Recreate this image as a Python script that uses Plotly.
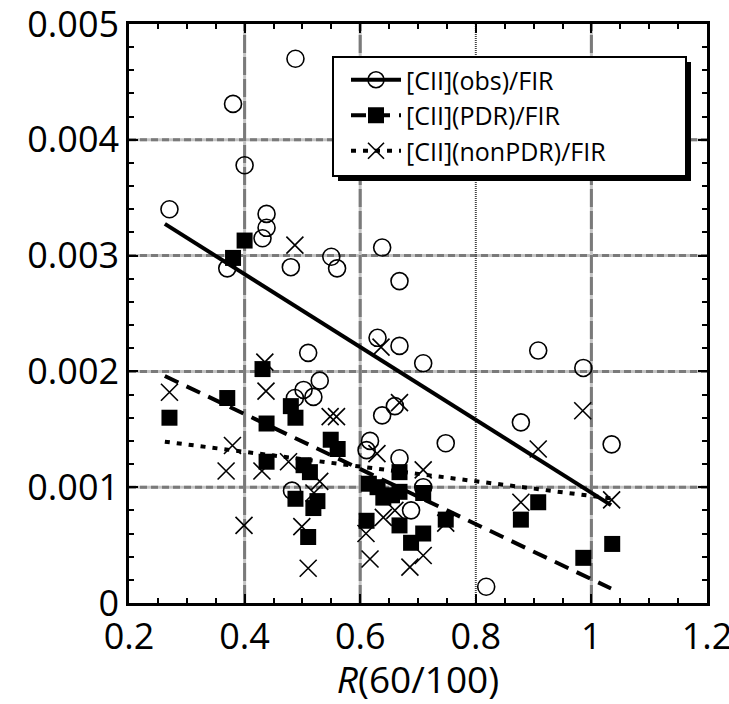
import plotly.graph_objects as go

# ---- data ----
obs_x = [0.488, 0.380, 0.400, 0.270, 0.438, 0.438, 0.431, 0.370, 0.480, 0.550,
         0.560, 0.638, 0.668, 0.510, 0.630, 0.668, 0.709, 0.530, 0.502, 0.519,
         0.487, 0.638, 0.660, 0.617, 0.611, 0.668, 0.709, 0.482, 0.688, 0.908,
         0.986, 0.878, 0.748, 1.035, 0.818]
obs_y = [0.00470, 0.00431, 0.00378, 0.00340, 0.00336, 0.00324, 0.00315, 0.00289, 0.00290, 0.00299,
         0.00289, 0.00307, 0.00278, 0.00216, 0.00229, 0.00222, 0.00207, 0.00192, 0.00184, 0.00178,
         0.00177, 0.00162, 0.00170, 0.00140, 0.00132, 0.00125, 0.00100, 0.00097, 0.00080, 0.00218,
         0.00203, 0.00156, 0.00138, 0.00137, 0.00014]

pdr_x = [0.400, 0.380, 0.270, 0.370, 0.431, 0.438, 0.480, 0.488, 0.438, 0.549,
         0.561, 0.502, 0.513, 0.488, 0.526, 0.519, 0.510, 0.615, 0.630, 0.640,
         0.655, 0.668, 0.668, 0.709, 0.611, 0.668, 0.688, 0.709, 0.748, 0.878,
         0.908, 0.986, 1.036]
pdr_y = [0.00313, 0.00298, 0.00160, 0.00177, 0.00202, 0.00155, 0.00170, 0.00160, 0.00122, 0.00141,
         0.00133, 0.00119, 0.00113, 0.00090, 0.00088, 0.00082, 0.00057, 0.00103, 0.00100, 0.00091,
         0.00093, 0.00113, 0.00096, 0.00095, 0.00071, 0.00067, 0.00052, 0.00060, 0.00072, 0.00072,
         0.00087, 0.00039, 0.00051]

non_x = [0.487, 0.270, 0.379, 0.368, 0.437, 0.435, 0.430, 0.476, 0.399, 0.548,
         0.559, 0.530, 0.499, 0.510, 0.610, 0.617, 0.636, 0.668, 0.629, 0.709,
         0.640, 0.660, 0.686, 0.709, 0.748, 0.878, 0.908, 0.985, 1.035, 0.520]
non_y = [0.00309, 0.00182, 0.00136, 0.00114, 0.00183, 0.00208, 0.00114, 0.00122, 0.00067, 0.00161,
         0.00161, 0.00105, 0.00066, 0.00030, 0.00060, 0.00038, 0.00221, 0.00173, 0.00129, 0.00115,
         0.00074, 0.00080, 0.00031, 0.00041, 0.00069, 0.00087, 0.00133, 0.00166, 0.00089, 0.00095]

fit_x = [0.262, 1.034]
obs_fit_y = [0.003274, 0.000845]
pdr_fit_y = [0.00196, 0.000125]
non_fit_y = [0.001393, 0.000903]

legend_names = ["[CII](obs)/FIR", "[CII](PDR)/FIR", "[CII](nonPDR)/FIR"]

x_ticks = [0.2, 0.4, 0.6, 0.8, 1.0, 1.2]
x_tick_text = ["0.2", "0.4", "0.6", "0.8", "1", "1.2"]
y_ticks = [0, 0.001, 0.002, 0.003, 0.004, 0.005]
y_tick_text = ["0", "0.001", "0.002", "0.003", "0.004", "0.005"]
x_grid_dashed = [0.4, 0.6, 1.0]
x_grid_dotted = [0.8]
y_grid = [0.001, 0.002, 0.003, 0.004]

FONT = "Open Sans"
MS = 17

fig = go.Figure()

# fit lines
fig.add_trace(go.Scatter(x=fit_x, y=obs_fit_y, mode="lines",
                         line=dict(color="black", width=4), showlegend=False))
fig.add_trace(go.Scatter(x=fit_x, y=pdr_fit_y, mode="lines",
                         line=dict(color="black", width=4, dash="15px,9px"), showlegend=False))
fig.add_trace(go.Scatter(x=fit_x, y=non_fit_y, mode="lines",
                         line=dict(color="black", width=4, dash="5px,7px"), showlegend=False))

# scatter points
fig.add_trace(go.Scatter(x=non_x, y=non_y, mode="markers", showlegend=False,
                         marker=dict(symbol="x-thin-open", size=MS, color="black",
                                     line=dict(color="black", width=1.6))))
fig.add_trace(go.Scatter(x=obs_x, y=obs_y, mode="markers", showlegend=False,
                         marker=dict(symbol="circle-open", size=MS, color="black",
                                     line=dict(color="black", width=1.6))))
fig.add_trace(go.Scatter(x=pdr_x, y=pdr_y, mode="markers", showlegend=False,
                         marker=dict(symbol="square", size=MS - 1, color="black",
                                     line=dict(color="black", width=0))))

# legend entries
fig.add_trace(go.Scatter(x=[None], y=[None], mode="lines+markers", name=legend_names[0],
                         line=dict(color="black", width=4),
                         marker=dict(symbol="circle-open", size=MS, color="black",
                                     line=dict(color="black", width=1.6))))
fig.add_trace(go.Scatter(x=[None], y=[None], mode="lines+markers", name=legend_names[1],
                         line=dict(color="black", width=4, dash="15px,9px"),
                         marker=dict(symbol="square", size=MS - 1, color="black")))
fig.add_trace(go.Scatter(x=[None], y=[None], mode="lines+markers", name=legend_names[2],
                         line=dict(color="black", width=4, dash="5px,7px"),
                         marker=dict(symbol="x-thin-open", size=MS, color="black",
                                     line=dict(color="black", width=1.6))))

shapes = []
for yv in y_grid:
    shapes.append(dict(type="line", xref="x", yref="y", x0=0.2, x1=1.2, y0=yv, y1=yv,
                       line=dict(color="#c4c4c4", width=3), layer="below"))
    shapes.append(dict(type="line", xref="x", yref="y", x0=0.2, x1=1.2, y0=yv, y1=yv,
                       line=dict(color="#7a7a7a", width=3, dash="7px,4px"), layer="below"))
for xv in x_grid_dashed:
    shapes.append(dict(type="line", xref="x", yref="y", x0=xv, x1=xv, y0=0, y1=0.005,
                       line=dict(color="#c4c4c4", width=3), layer="below"))
    shapes.append(dict(type="line", xref="x", yref="y", x0=xv, x1=xv, y0=0, y1=0.005,
                       line=dict(color="#7a7a7a", width=3, dash="18px,4px"), layer="below"))
for xv in x_grid_dotted:
    shapes.append(dict(type="line", xref="x", yref="y", x0=xv, x1=xv, y0=0, y1=0.005,
                       line=dict(color="#444444", width=2, dash="1px,1px"), layer="below"))

# legend box with drop shadow (pixel -> paper)
L, R, T, B = 129, 707, 24, 603
def px(xp):
    return (xp - L) / (R - L)
def py(yp):
    return (B - yp) / (B - T)
shapes.append(dict(type="rect", xref="paper", yref="paper",
                   x0=px(338), x1=px(691), y0=py(181), y1=py(62),
                   fillcolor="black", line=dict(width=0), layer="above"))
shapes.append(dict(type="rect", xref="paper", yref="paper",
                   x0=px(333), x1=px(686), y0=py(176), y1=py(57),
                   fillcolor="white", line=dict(color="black", width=2), layer="above"))

fig.update_layout(
    width=729, height=704,
    margin=dict(l=L, r=729 - R, t=T, b=704 - B, autoexpand=False),
    paper_bgcolor="white", plot_bgcolor="white",
    font=dict(family=FONT, color="black", size=36),
    shapes=shapes,
    showlegend=True,
    legend=dict(x=px(346), y=py(57), xanchor="left", yanchor="top",
                bgcolor="rgba(0,0,0,0)", borderwidth=0,
                font=dict(family=FONT, size=25, color="black"),
                itemwidth=50, tracegroupgap=0),
    xaxis=dict(range=[0.2, 1.2], tickmode="array", tickvals=x_ticks, ticktext=x_tick_text,
               showgrid=False, zeroline=False, automargin=False, ticklabeloverflow="allow",
               showline=True, linecolor="black", linewidth=2.5, mirror="allticks",
               ticks="inside", ticklen=9, tickwidth=1.5, tickcolor="black",
               minor=dict(dtick=0.05, ticks="inside", ticklen=5, tickwidth=1.5,
                          tickcolor="black", showgrid=False),
               tickfont=dict(size=36, family=FONT),
               title=dict(text="<i>R</i>(60/100)", font=dict(size=37, family=FONT), standoff=19)),
    yaxis=dict(range=[0, 0.005], tickmode="array", tickvals=y_ticks, ticktext=y_tick_text,
               showgrid=False, zeroline=False, automargin=False, ticklabeloverflow="allow",
               showline=True, linecolor="black", linewidth=2.5, mirror="allticks",
               ticks="inside", ticklen=9, tickwidth=1.5, tickcolor="black",
               minor=dict(dtick=0.0002, ticks="inside", ticklen=5, tickwidth=1.5,
                          tickcolor="black", showgrid=False),
               tickfont=dict(size=36, family=FONT)),
)

fig.write_html("out.html", config={"displayModeBar": False},
               post_script="document.body.style.margin='0px';document.body.style.overflow='hidden';")
